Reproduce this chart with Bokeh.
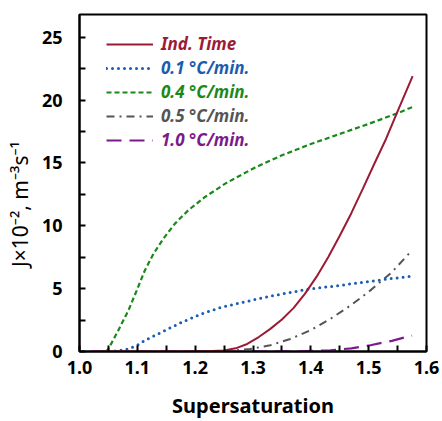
from bokeh.plotting import figure
from bokeh.models import Range1d, FixedTicker, PrintfTickFormatter, Legend, LegendItem
from bokeh.embed import file_html
from bokeh.resources import INLINE

# ---- data ----
ind_x = [1.02, 1.10, 1.15, 1.20, 1.23, 1.25, 1.27, 1.29, 1.31, 1.33, 1.35, 1.37, 1.39, 1.41, 1.43, 1.45, 1.47, 1.49, 1.51, 1.53, 1.55, 1.576]
ind_y = [0, 0, 0, 0.01, 0.03, 0.08, 0.25, 0.6, 1.15, 1.8, 2.55, 3.45, 4.6, 5.95, 7.5, 9.2, 11.0, 12.95, 14.95, 16.9, 19.1, 21.9]

r01_x = [1.02, 1.05, 1.07, 1.0845, 1.10, 1.113, 1.142, 1.177, 1.2116, 1.246, 1.284, 1.33, 1.393, 1.44, 1.491, 1.53, 1.572]
r01_y = [0, 0, 0.08, 0.2, 0.5, 0.88, 1.54, 2.33, 3.0, 3.53, 3.93, 4.4, 4.94, 5.2, 5.5, 5.75, 5.97]

r04_x = [1.045, 1.050, 1.067, 1.0845, 1.099, 1.113, 1.128, 1.145, 1.165, 1.188, 1.217, 1.252, 1.284, 1.302, 1.35, 1.40, 1.45, 1.50, 1.55, 1.576]
r04_y = [0, 0.2, 1.67, 3.26, 4.86, 6.45, 7.78, 8.97, 10.17, 11.23, 12.29, 13.35, 14.15, 14.6, 15.6, 16.5, 17.3, 18.1, 18.95, 19.45]

r05_x = [1.25, 1.295, 1.33, 1.3645, 1.40, 1.434, 1.47, 1.503, 1.54, 1.572]
r05_y = [0, 0.2, 0.5, 1.0, 1.7, 2.6, 3.7, 4.86, 6.3, 7.9]

r10_x = [1.02, 1.30, 1.38, 1.434, 1.47, 1.503, 1.54, 1.575]
r10_y = [0, 0, 0.02, 0.1, 0.25, 0.5, 0.85, 1.27]

x_ticks = [1.0, 1.1, 1.2, 1.3, 1.4, 1.5, 1.6]
x_minor = [1.05, 1.15, 1.25, 1.35, 1.45, 1.55]
y_ticks = [0, 5, 10, 15, 20, 25]
y_minor = [2.5, 7.5, 12.5, 17.5, 22.5]

labels = ["Ind. Time", "0.1 \u00b0C/min.", "0.4 \u00b0C/min.", "0.5 \u00b0C/min.", "1.0 \u00b0C/min."]
y_title = "J\u00d710\u207b\u00b2, m\u207b\u00b3s\u207b\u00b9"
x_title = "Supersaturation"

FONT = "Noto Sans"

p = figure(width=442, height=421, output_backend="svg", toolbar_location=None,
           x_range=Range1d(1.0, 1.6), y_range=Range1d(0, 26.8),
           min_border_left=79, min_border_right=16, min_border_top=14, min_border_bottom=70)
p.xgrid.visible = False
p.ygrid.visible = False
p.outline_line_color = "black"
p.outline_line_width = 2
p.background_fill_color = "white"
p.border_fill_color = "white"

for ax in (p.xaxis[0], p.yaxis[0]):
    ax.axis_line_width = 2
    ax.axis_line_color = "black"
    ax.major_tick_in = 6
    ax.major_tick_out = 0
    ax.minor_tick_in = 6
    ax.minor_tick_out = 0
    ax.major_tick_line_width = 2
    ax.minor_tick_line_width = 2
    ax.major_label_text_font = FONT
    ax.major_label_text_font_style = "bold"
    ax.major_label_text_font_size = "18px"
    ax.major_label_text_color = "black"

p.xaxis.ticker = FixedTicker(ticks=x_ticks, minor_ticks=x_minor)
p.yaxis.ticker = FixedTicker(ticks=y_ticks, minor_ticks=y_minor)
p.xaxis.formatter = PrintfTickFormatter(format="%.1f")
p.yaxis.formatter = PrintfTickFormatter(format="%d")
p.xaxis.major_label_standoff = 9
p.yaxis.major_label_standoff = 17

p.xaxis.axis_label = x_title
p.xaxis.axis_label_text_font = FONT
p.xaxis.axis_label_text_font_style = "bold"
p.xaxis.axis_label_text_font_size = "20px"
p.xaxis.axis_label_text_color = "black"
p.xaxis.axis_label_standoff = 15

p.yaxis.axis_label = y_title + "\u2002\u2002\u2002\u2002"
p.yaxis.axis_label_text_font = FONT
p.yaxis.axis_label_text_font_style = "normal"
p.yaxis.axis_label_text_font_size = "21px"
p.yaxis.axis_label_text_color = "black"
p.yaxis.axis_label_standoff = 5

c_ind = "#9b1b35"
c01 = "#1a5cb0"
c04 = "#198a1a"
c05 = "#555555"
c10 = "#7a1a8c"

r10 = p.line(r10_x, r10_y, line_color=c10, line_width=2.2, line_dash="15 8")
r05 = p.line(r05_x, r05_y, line_color=c05, line_width=2, line_dash="8 5 2 5")
r01 = p.line(r01_x, r01_y, line_color=c01, line_width=3, line_dash="0 6", line_cap="round")
r04 = p.line(r04_x, r04_y, line_color=c04, line_width=2.2, line_dash="5 3")
rind = p.line(ind_x, ind_y, line_color=c_ind, line_width=2)

rends = [rind, r01, r04, r05, r10]
colors = [c_ind, c01, c04, c05, c10]
ys = [296, 272, 248, 224, 200]
for r, lab, col, yy in zip(rends, labels, colors, ys):
    lg = Legend(items=[LegendItem(label=lab, renderers=[r])], location=(27, yy),
                glyph_width=47, glyph_height=20, label_height=20, label_standoff=8,
                padding=0, margin=0, spacing=0,
                border_line_alpha=0, background_fill_alpha=0,
                label_text_font=FONT, label_text_font_style="bold italic",
                label_text_font_size="17px", label_text_color=col)
    p.add_layout(lg, "center")

open("out.html", "w").write(file_html(p, INLINE))
